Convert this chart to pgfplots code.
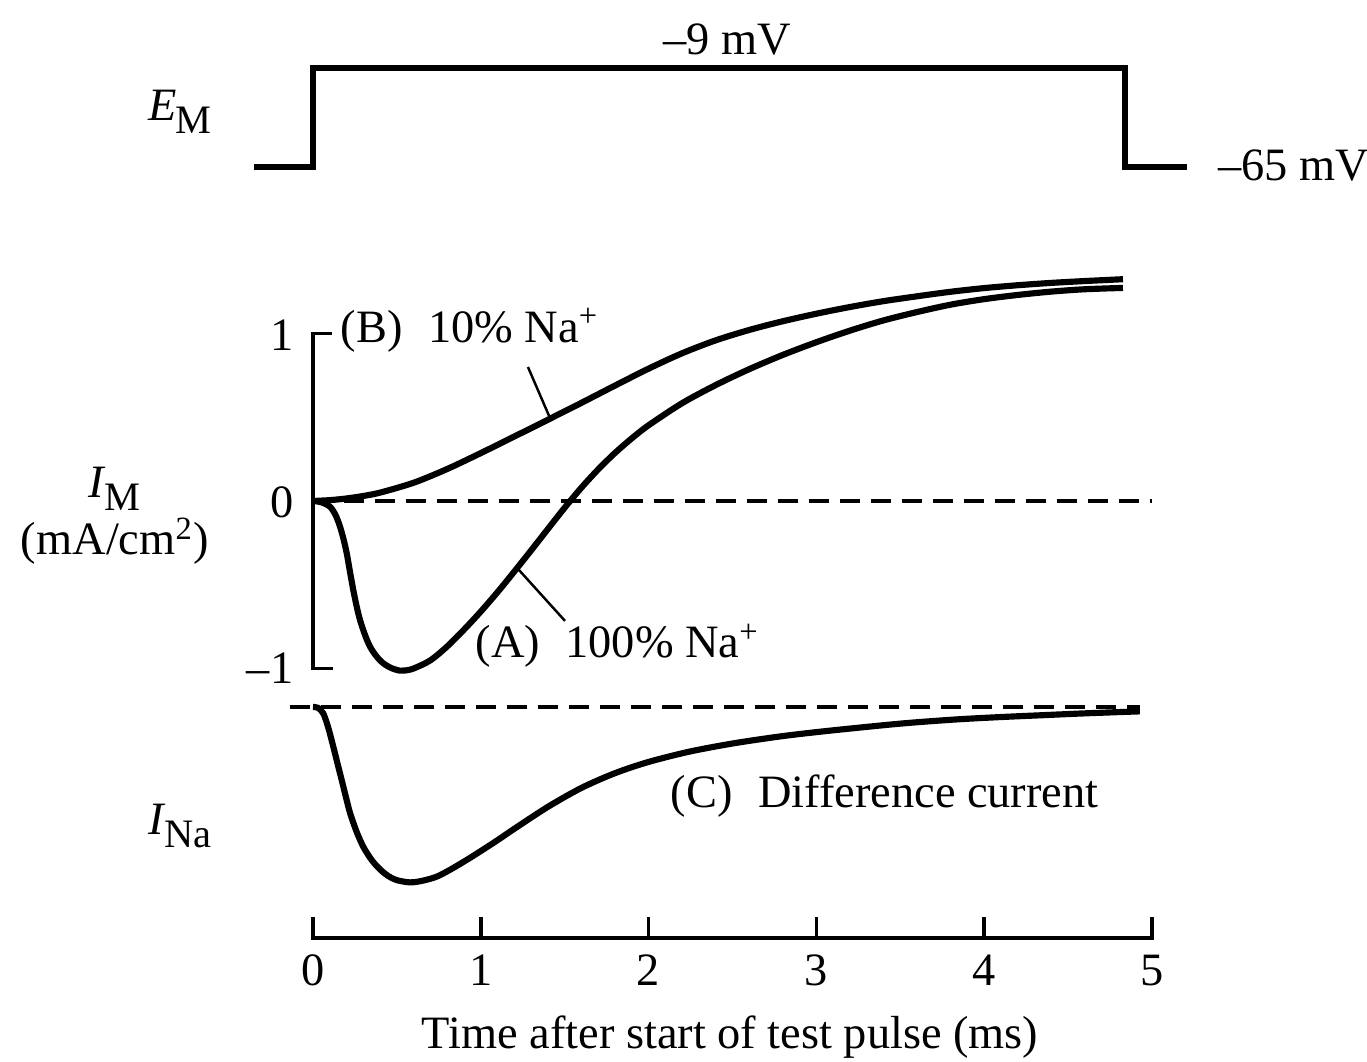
\documentclass[border=0pt]{standalone}
\usepackage{pgfplots}
\pgfplotsset{compat=1.18}
\usepackage{fontspec}
\setmainfont{Liberation Serif}

\newcommand{\sub}[1]{\kern-0.04em\raisebox{-0.27em}{\fontsize{11.5}{13}\selectfont #1}}
\pgfplotsset{base/.style={scale only axis, width=13.67cm, height=10.62cm,
  xmin=-1.86532, xmax=6.28129, hide axis, clip=false, at={(0,0)}, anchor=south west}}

\begin{document}
\begin{tikzpicture}[font=\fontsize{13.2}{15.8}\selectfont, every node/.append style={inner sep=0pt}]
% ---------- membrane potential (mV) ----------
\begin{axis}[base, ymin=-571.263, ymax=29.465]
\addplot[black, line width=1.5pt, line join=miter] coordinates
 {(-0.352,-65) (0,-65) (0,-9) (4.839,-9) (4.839,-65) (5.209,-65)};
\end{axis}
% ---------- difference current (baseline 0) ----------
\begin{axis}[base, ymin=-2.11940, ymax=4.22090]
\addplot[black, line width=0.9pt, dash pattern=on 0.2cm off 0.11cm] coordinates {(-0.137,0) (4.928,0)};
\addplot[black, line width=1.75pt, smooth] coordinates {
(0,0) (0.03,-0.005) (0.061,-0.038) (0.09,-0.12) (0.121,-0.237) (0.146,-0.337)
(0.171,-0.436) (0.196,-0.537) (0.221,-0.633) (0.26,-0.745) (0.300,-0.835)
(0.35,-0.914) (0.40,-0.970) (0.45,-1.010) (0.50,-1.034) (0.578,-1.047)
(0.65,-1.038) (0.737,-1.013) (0.82,-0.970) (0.916,-0.913) (1.0,-0.860)
(1.1,-0.795) (1.2,-0.727) (1.4,-0.596) (1.6,-0.483) (1.8,-0.395) (2.0,-0.328)
(2.241,-0.267) (2.5,-0.218) (2.775,-0.177) (3.0,-0.150) (3.307,-0.118)
(3.55,-0.095) (3.838,-0.074) (4.1,-0.060) (4.370,-0.048) (4.6,-0.038) (4.928,-0.026)};
\end{axis}
% ---------- membrane current (mA/cm^2) ----------
\begin{axis}[base, ymin=-3.34925, ymax=2.99104]
% zero line
\addplot[black, line width=0.9pt, dash pattern=on 0.2cm off 0.11cm] coordinates {(0,0) (5.0,0)};
% vertical scale bracket
\addplot[black, line width=1pt, line join=miter] coordinates {(0.113,1) (0,1) (0,-1) (0.119,-1)};
% (A) 100% Na+
\addplot[black, line width=1.75pt, smooth] coordinates {
(0,0) (0.05,-0.008) (0.101,-0.034) (0.135,-0.085) (0.161,-0.153) (0.182,-0.228)
(0.201,-0.312) (0.220,-0.420) (0.240,-0.531) (0.260,-0.628) (0.280,-0.710)
(0.310,-0.800) (0.340,-0.870) (0.378,-0.927) (0.419,-0.969) (0.468,-0.998)
(0.518,-1.013) (0.55,-1.012) (0.6,-1.000) (0.7,-0.951) (0.8,-0.868) (0.9,-0.768)
(1.0,-0.660) (1.1,-0.544) (1.2,-0.421) (1.3,-0.295) (1.4,-0.167) (1.5,-0.040)
(1.6,0.080) (1.7,0.189) (1.8,0.287) (1.9,0.374) (2.0,0.452) (2.2,0.584)
(2.4,0.692) (2.6,0.787) (2.8,0.872) (3.0,0.948) (3.2,1.017) (3.4,1.078)
(3.6,1.128) (3.8,1.172) (4.0,1.205) (4.2,1.230) (4.4,1.250) (4.6,1.264) (4.827,1.272)};
% (B) 10% Na+
\addplot[black, line width=1.75pt, smooth] coordinates {
(0,0) (0.1,0.005) (0.2,0.015) (0.3,0.030) (0.4,0.050) (0.6,0.109) (0.8,0.191)
(1.0,0.286) (1.2,0.385) (1.4,0.485) (1.6,0.586) (1.8,0.689) (2.0,0.790)
(2.2,0.882) (2.4,0.959) (2.6,1.021) (2.8,1.073) (3.0,1.118) (3.2,1.158)
(3.4,1.193) (3.6,1.222) (3.8,1.249) (4.0,1.271) (4.2,1.288) (4.4,1.302)
(4.6,1.313) (4.827,1.324)};
% leader lines
\addplot[black, line width=0.7pt] coordinates {(1.281,0.800) (1.412,0.496)};
\addplot[black, line width=0.7pt] coordinates {(1.222,-0.406) (1.502,-0.716)};
% time axis
\addplot[black, line width=1pt, line join=miter] coordinates {(0,-2.484) (0,-2.609) (5,-2.609) (5,-2.484)};
\addplot[black, line width=1pt] coordinates {(1,-2.609) (1,-2.484)};
\addplot[black, line width=1pt] coordinates {(2,-2.609) (2,-2.484)};
\addplot[black, line width=1pt] coordinates {(3,-2.609) (3,-2.484)};
\addplot[black, line width=1pt] coordinates {(4,-2.609) (4,-2.484)};
% tick labels
\node[anchor=base] at (axis cs:0,-2.890) {0};
\node[anchor=base] at (axis cs:1,-2.890) {1};
\node[anchor=base] at (axis cs:2,-2.890) {2};
\node[anchor=base] at (axis cs:3,-2.890) {3};
\node[anchor=base] at (axis cs:4,-2.890) {4};
\node[anchor=base] at (axis cs:5,-2.890) {5};
\node[anchor=base] at (axis cs:2.485,-3.266) {Time after start of test pulse (ms)};
\node[anchor=base east] at (axis cs:-0.113,0.901) {1};
\node[anchor=base east] at (axis cs:-0.113,-0.096) {0};
\node[anchor=base east] at (axis cs:-0.113,-1.087) {--1};
\node[anchor=base] at (axis cs:-1.183,0.018) {\textit{I}\sub{M}};
\node[anchor=base] at (axis cs:-1.180,-0.322) {(mA/cm\textsuperscript{2})};
\node[anchor=base] at (axis cs:-0.793,-1.994) {\textit{I}\sub{Na}};
\node[anchor=base] at (axis cs:-0.793,2.269) {\textit{E}\sub{M}};
\node[anchor=base] at (axis cs:2.467,2.663) {--9 mV};
\node[anchor=base west] at (axis cs:5.392,1.916) {--65 mV};
\node[anchor=base west] at (axis cs:0.161,0.949) {(B)\hspace{0.55em}10\% Na\textsuperscript{+}};
\node[anchor=base west] at (axis cs:0.965,-0.937) {(A)\hspace{0.55em}100\% Na\textsuperscript{+}};
\node[anchor=base west] at (axis cs:2.128,-1.827) {(C)\hspace{0.55em}Difference current};
\end{axis}
\pgfresetboundingbox
\useasboundingbox (0,0) rectangle (13.67cm,10.62cm);
\end{tikzpicture}
\end{document}
